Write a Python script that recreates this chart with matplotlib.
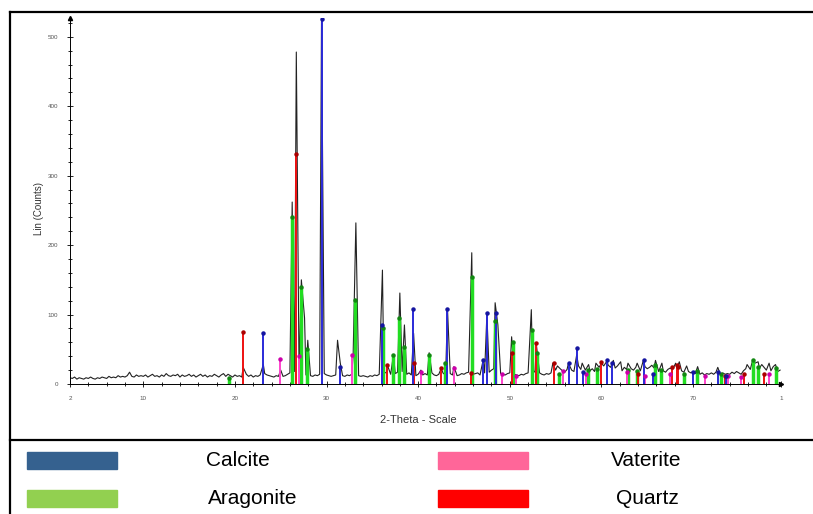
import numpy as np
import matplotlib.pyplot as plt
from matplotlib.lines import Line2D
from matplotlib.patches import Rectangle

plt.rcParams['font.family'] = ['Liberation Sans', 'DejaVu Sans']

# background of the scan, read every 0.25 deg from 2 to 79.5 (2-Theta)
base_counts = [
    9, 8, 10, 7, 9, 8, 7, 9, 8, 10, 8, 7, 9, 8, 10, 9,
    8, 11, 9, 10, 9, 12, 10, 11, 10, 12, 17, 11, 10, 13, 11, 12,
    11, 13, 10, 12, 14, 11, 12, 10, 13, 11, 15, 12, 11, 13, 12, 14,
    10, 13, 11, 12, 14, 11, 13, 10, 12, 14, 11, 13, 10, 12, 11, 14,
    12, 10, 13, 15, 11, 14, 12, 10, 13, 11, 12, 10, 12, 14, 11, 13,
    10, 12, 11, 13, 11, 15, 13, 12, 11, 10, 12, 11, 13, 11, 12, 14,
    16, 14, 18, 20, 18, 15, 16, 13, 14, 12, 11, 13, 12, 14, 17, 15,
    13, 12, 11, 12, 13, 15, 14, 12, 11, 13, 12, 14, 15, 13, 12, 11,
    12, 11, 10, 12, 11, 13, 12, 14, 15, 17, 16, 15, 14, 16, 15, 17,
    16, 18, 15, 14, 16, 13, 15, 12, 14, 12, 13, 15, 13, 14, 16, 13,
    12, 14, 13, 15, 14, 16, 15, 13, 14, 12, 13, 15, 14, 16, 17, 15,
    14, 15, 16, 13, 14, 16, 18, 17, 20, 22, 19, 17, 15, 14, 13, 15,
    16, 17, 14, 13, 12, 14, 13, 15, 16, 18, 20, 17, 19, 16, 14, 13,
    15, 14, 16, 18, 20, 17, 22, 19, 17, 21, 24, 20, 18, 22, 26, 21,
    17, 20, 24, 19, 22, 18, 20, 24, 21, 26, 23, 27, 24, 20, 23, 26,
    22, 19, 24, 21, 26, 22, 20, 24, 21, 19, 23, 25, 22, 24, 27, 23,
    20, 18, 22, 19, 17, 21, 23, 20, 26, 23, 21, 19, 17, 20, 18, 16,
    18, 15, 17, 14, 16, 13, 15, 14, 16, 14, 17, 15, 13, 16, 14, 15,
    14, 17, 15, 18, 16, 14, 19, 22, 25, 21, 27, 30, 26, 23, 28, 24,
    20, 23, 19, 25, 21, 18, 20,
]
base_theta = np.arange(2, 79.51, 0.25)

# peaks of the measured pattern: position, top count
peak_theta = [20.9, 23.1, 25.0, 26.25, 26.7, 27.25, 27.6, 27.95, 29.45,
              31.2, 31.5, 32.9, 33.2, 36.1, 36.7, 37.3, 38.0, 38.5, 39.5,
              40.3, 41.2, 42.5, 43.2, 43.9, 45.85, 47.1, 47.5, 48.4, 48.7,
              50.2, 52.35, 52.9, 54.7, 55.2, 56.4, 57.3, 57.9, 58.6, 59.4,
              60.0, 60.6, 61.3, 62.1, 62.9, 63.9, 64.6, 65.9, 66.6, 68.1,
              68.5, 69.3, 70.5, 72.7, 75.9, 76.5, 77.1, 78.3, 79.0]
peak_counts = [24, 28, 20, 262, 478, 150, 95, 63, 525,
               63, 30, 40, 232, 164, 25, 42, 131, 85, 73,
               20, 45, 22, 108, 25, 189, 35, 100, 117, 85,
               68, 107, 57, 30, 26, 30, 42, 30, 28, 30,
               30, 33, 34, 32, 30, 30, 35, 34, 30, 30,
               32, 26, 25, 24, 28, 34, 32, 30, 28]

# reference lines of the phases: position, count
calcite_theta = [23.05, 29.45, 31.5, 36.0, 39.45, 43.2, 47.1, 47.5, 48.5,
                 56.5, 57.3, 58.0, 60.6, 61.2, 64.6, 65.6, 70.0, 72.7, 73.6]
calcite_counts = [73, 525, 25, 85, 108, 108, 35, 102, 102,
                  30, 52, 17, 35, 30, 35, 15, 17, 17, 12]
aragonite_theta = [19.4, 26.25, 27.25, 27.9, 33.15, 36.15, 37.3, 37.95, 38.45,
                   41.2, 42.9, 45.85, 48.4, 50.3, 52.45, 53.0, 55.4, 58.5,
                   59.5, 62.9, 63.9, 65.9, 66.5, 69.0, 70.4, 73.0, 76.5, 77.1, 79.0]
aragonite_counts = [8, 240, 140, 50, 121, 80, 42, 95, 53,
                    42, 30, 154, 90, 60, 78, 45, 15, 20,
                    22, 20, 18, 27, 20, 15, 18, 15, 35, 25, 23]
vaterite_theta = [24.9, 27.0, 32.8, 40.3, 43.9, 49.1, 50.7, 55.8, 58.3,
                  62.8, 64.8, 67.5, 71.3, 73.8, 75.2, 78.3]
vaterite_counts = [36, 40, 42, 17, 23, 15, 12, 18, 15,
                   17, 12, 15, 12, 12, 10, 15]
quartz_theta = [20.9, 26.65, 36.6, 39.5, 42.5, 45.8, 50.2, 52.9, 54.8,
                59.9, 64.0, 67.7, 68.2, 68.4, 73.5, 75.6, 77.7]
quartz_counts = [75, 331, 28, 30, 23, 16, 44, 59, 30,
                 32, 15, 25, 27, 25, 12, 15, 15]

legend_names = ['Calcite', 'Vaterite', 'Aragonite', 'Quartz']
legend_colors = ['#35618f', '#ff6699', '#92d050', '#ff0000']

# build the trace: background + peak tops
bt = np.array(base_theta)
bc = np.array(base_counts, dtype=float)
keep = np.ones(len(bt), bool)
for p in peak_theta:
    keep &= np.abs(bt - p) > 0.13
theta = np.concatenate([bt[keep], peak_theta])
counts = np.concatenate([bc[keep], peak_counts])
order = np.argsort(theta)
theta, counts = theta[order], counts[order]

fig = plt.figure(figsize=(8.13, 5.14), dpi=100)
ax = fig.add_axes([70/813, 130/514, 711/813, 366/514])

phases = [(aragonite_theta, aragonite_counts, '#22dd22', '#118811', 2.5),
          (vaterite_theta, vaterite_counts, '#ff44cc', '#cc00aa', 1.4),
          (quartz_theta, quartz_counts, '#ee1111', '#aa0000', 1.4),
          (calcite_theta, calcite_counts, '#2a2ad8', '#1515a0', 1.4)]

ax.plot(theta, counts, color='#222222', lw=0.8, zorder=2)
for th, ct, col, mcol, lw in phases:
    ax.vlines(th, 0, ct, color=col, lw=lw, zorder=3)
    ax.plot(th, ct, 'o', color=mcol, ms=2.2, zorder=4)

ax.set_xlim(2, 79.6)
ax.set_ylim(0, 527)
ax.set_xticks([2, 10, 20, 30, 40, 50, 60, 70, 79.6])
ax.set_xticklabels(['2', '10', '20', '30', '40', '50', '60', '70', '1'])
ax.set_xticks(np.arange(4, 79, 2), minor=True)
ax.set_yticks([0, 100, 200, 300, 400, 500])
ax.set_yticks(np.arange(20, 521, 20), minor=True)
ax.tick_params(which='both', direction='inout', labelsize=4.5,
               labelcolor='#555555', width=0.6)
ax.tick_params(which='major', length=5, pad=6)
ax.tick_params(which='minor', length=3)
for s in ['top', 'right']:
    ax.spines[s].set_visible(False)
for s in ['left', 'bottom']:
    ax.spines[s].set_linewidth(0.7)
ax.plot(0, 1, '^k', ms=3, transform=ax.transAxes, clip_on=False)
ax.plot(1, 0, '>k', ms=3, transform=ax.transAxes, clip_on=False)

ax.set_ylabel('Lin (Counts)', fontsize=7, color='#333333')
ax.yaxis.set_label_coords(-0.036, 0.48)
ax.set_xlabel('2-Theta - Scale', fontsize=8, color='#333333')
ax.xaxis.set_label_coords((418 - 70) / 711, -31 / 366)

# frame lines
lines = [((10, 813), (12, 12)), ((10, 10), (12, 514)), ((10, 813), (440, 440))]
for xs, ys in lines:
    fig.add_artist(Line2D([x / 813 for x in xs], [1 - y / 514 for y in ys],
                          color='black', lw=1.6))

# legend block
pos = [(27, 452, 238), (438, 452, 646), (27, 490, 253), (438, 490, 647)]
for (x0, y0, tx), name, col in zip(pos, legend_names, legend_colors):
    fig.add_artist(Rectangle((x0 / 813, 1 - (y0 + 17) / 514), 90 / 813, 17 / 514,
                             color=col, transform=fig.transFigure))
    fig.text(tx / 813, 1 - (y0 + 9) / 514, name, fontsize=15,
             ha='center', va='center')

fig.savefig('out.png', dpi=100)
